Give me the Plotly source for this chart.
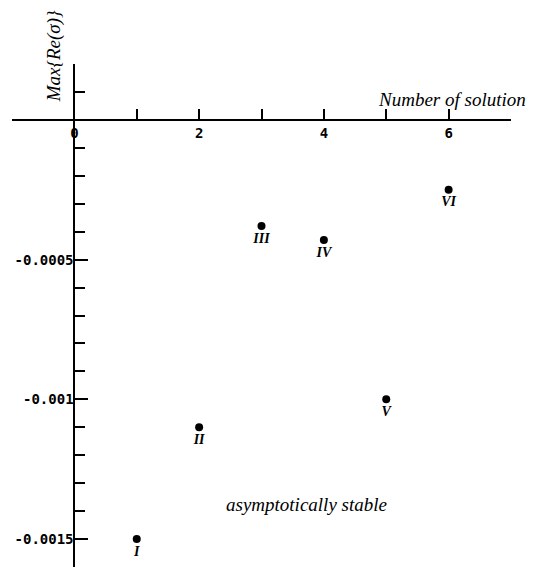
import plotly.graph_objects as go

solutions = [1, 2, 3, 4, 5, 6]
max_re_sigma = [-0.0015, -0.0011, -0.00038, -0.00043, -0.001, -0.00025]
roman_labels = ["I", "II", "III", "IV", "V", "VI"]

x_tick_vals = [0, 2, 4, 6]
x_tick_text = ["0", "2", "4", "6"]
y_tick_vals = [-0.0015, -0.001, -0.0005]
y_tick_text = ["-0.0015", "-0.001", "-0.0005"]

x_range = [-1, 7]
y_range = [-0.0016, 0.0002]

serif = "Liberation Serif"
tick_font = dict(family="DejaVu Sans Mono", size=14, color="black", weight=700)

fig = go.Figure()
fig.add_trace(go.Scatter(
    x=solutions, y=max_re_sigma, mode="markers+text",
    marker=dict(size=8, color="black"),
    text=roman_labels, textposition="bottom center",
    textfont=dict(family=serif, size=14, color="black", style="italic", weight=700),
    cliponaxis=False, showlegend=False,
))

x_pos = (0 - y_range[0]) / (y_range[1] - y_range[0])
y_pos = (0 - x_range[0]) / (x_range[1] - x_range[0])

fig.update_layout(
    width=535, height=567,
    margin=dict(l=4, r=32, t=56, b=8, autoexpand=False),
    plot_bgcolor="white", paper_bgcolor="white",
    xaxis=dict(
        range=x_range, showgrid=False, zeroline=False, automargin=False,
        showline=True, linecolor="black", linewidth=2,
        anchor="free", position=x_pos,
        tickvals=x_tick_vals, ticktext=x_tick_text,
        ticks="inside", ticklen=10, tickwidth=2, tickcolor="black",
        minor=dict(dtick=1, tick0=0, ticks="inside", ticklen=10, tickwidth=2, tickcolor="black"),
        tickfont=tick_font,
    ),
    yaxis=dict(
        range=y_range, showgrid=False, zeroline=False, automargin=False,
        showline=True, linecolor="black", linewidth=2,
        anchor="free", position=y_pos,
        tickvals=y_tick_vals, ticktext=y_tick_text,
        ticks="inside", ticklen=13, tickwidth=2, tickcolor="black",
        minor=dict(dtick=0.0001, tick0=0, ticks="inside", ticklen=10, tickwidth=2, tickcolor="black"),
        tickfont=tick_font, ticklabelstandoff=-3,
    ),
    annotations=[
        dict(text="Number of solution", x=1.034, xref="paper", y=0.0, yref="y",
             xanchor="right", yanchor="bottom", yshift=8, showarrow=False,
             font=dict(family=serif, size=19, style="italic", color="black")),
        dict(text="Max{Re(σ)}", x=0.085, xref="paper", y=1.016, yref="paper",
             textangle=-90, xanchor="center", yanchor="middle", showarrow=False,
             font=dict(family=serif, size=19, style="italic", color="black")),
        dict(text="asymptotically stable", x=3.72, xref="x", y=-0.001375, yref="y",
             xanchor="center", yanchor="middle", showarrow=False,
             font=dict(family=serif, size=19, style="italic", color="black")),
    ],
)

fig.write_html("out.html")
